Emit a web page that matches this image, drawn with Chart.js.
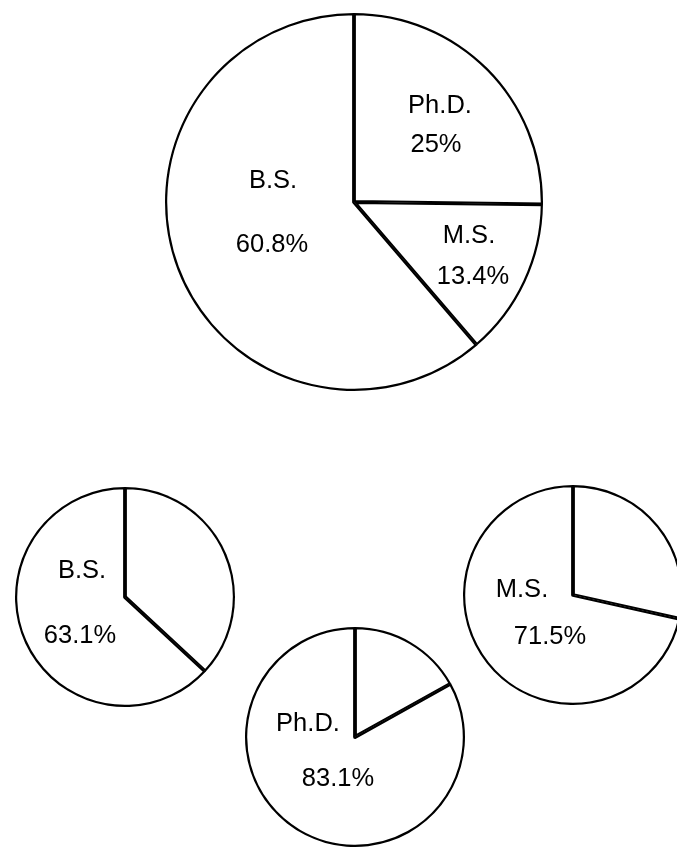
<!DOCTYPE html>
<html>
<head>
<meta charset="utf-8">
<title>Degree distribution pies</title>
<script src="https://cdn.jsdelivr.net/npm/chart.js@4"></script>
<style>
  html, body { margin: 0; padding: 0; background: #fff; width: 677px; height: 851px; overflow: hidden; }
  .pie { position: absolute; }
</style>
</head>
<body>
<div class="pie" id="boxAll"><canvas id="allChart"></canvas></div>
<div class="pie" id="boxBS"><canvas id="bsChart"></canvas></div>
<div class="pie" id="boxPhD"><canvas id="phdChart"></canvas></div>
<div class="pie" id="boxMS"><canvas id="msChart"></canvas></div>
<script>
// Top pie: share of each degree (clockwise from 12 o'clock)
const allLabels = ['Ph.D.', 'M.S.', 'B.S.'];
const allValues = [25, 13.4, 60.8];

// Small pies: the named slice plus the rest
const bsLabels = ['', 'B.S.'];
const bsValues = [36.9, 63.1];
const phdLabels = ['', 'Ph.D.'];
const phdValues = [16.9, 83.1];
const msLabels = ['', 'M.S.'];
const msValues = [28.5, 71.5];

const PAD = 2;

// draws "name" and "value%" inside a slice, offsets are from the pie centre
const textLabels = {
  id: 'textLabels',
  afterDatasetsDraw(chart, args, opts) {
    const arc = chart.getDatasetMeta(0).data[0];
    const cx = arc.x, cy = arc.y;
    const ctx = chart.ctx;
    ctx.save();
    ctx.font = '25.5px "Liberation Sans", Arial, Helvetica, sans-serif';
    ctx.fillStyle = '#000';
    ctx.textAlign = 'center';
    ctx.textBaseline = 'middle';
    (opts.items || []).forEach(it => {
      const name = chart.data.labels[it.index];
      const val = chart.data.datasets[0].data[it.index] + '%';
      ctx.fillText(name, cx + it.name[0], cy + it.name[1]);
      ctx.fillText(val, cx + it.value[0], cy + it.value[1]);
    });
    ctx.restore();
  }
};

function makePie(boxId, canvasId, cx, cy, r, labels, values, items) {
  const box = document.getElementById(boxId);
  const canvas = document.getElementById(canvasId);
  const size = 2 * (r + PAD);
  box.style.left = (cx - r - PAD) + 'px';
  box.style.top = (cy - r - PAD) + 'px';
  canvas.width = size;
  canvas.height = size;
  canvas.style.width = size + 'px';
  canvas.style.height = size + 'px';

  return new Chart(canvas.getContext('2d'), {
    type: 'pie',
    data: {
      labels: labels,
      datasets: [{
        data: values,
        backgroundColor: '#ffffff',
        borderColor: '#000000',
        borderWidth: 1.9,
        borderAlign: 'inner'
      }]
    },
    options: {
      responsive: false,
      animation: false,
      events: [],
      layout: { padding: PAD },
      plugins: {
        legend: { display: false },
        tooltip: { enabled: false },
        textLabels: { items: items }
      }
    },
    plugins: [textLabels]
  });
}

makePie('boxAll', 'allChart', 354, 202, 189, allLabels, allValues, [
  { index: 0, name: [86, -96], value: [82, -57] },
  { index: 1, name: [115, 34], value: [119, 75] },
  { index: 2, name: [-81, -21], value: [-82, 43] }
]);

makePie('boxBS', 'bsChart', 125, 597, 110, bsLabels, bsValues, [
  { index: 1, name: [-43, -26], value: [-45, 39] }
]);

makePie('boxPhD', 'phdChart', 355, 737, 110, phdLabels, phdValues, [
  { index: 1, name: [-47, -13], value: [-17, 42] }
]);

makePie('boxMS', 'msChart', 573, 595, 110, msLabels, msValues, [
  { index: 1, name: [-51, -5], value: [-23, 42] }
]);
</script>
</body>
</html>
